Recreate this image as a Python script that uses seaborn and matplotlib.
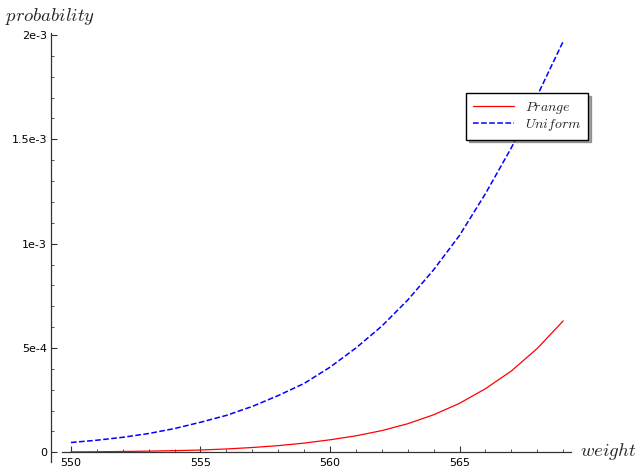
import matplotlib
matplotlib.use("Agg")
import matplotlib.pyplot as plt
import pandas as pd
import seaborn as sns
from matplotlib.ticker import MultipleLocator, FixedLocator, FixedFormatter

# values
weight = list(range(550, 570))
prange = [1.8e-6, 2.7e-6, 4.0e-6, 5.6e-6, 8.0e-6, 1.1e-5, 1.6e-5, 2.3e-5, 3.2e-5, 4.4e-5,
          6.0e-5, 7.9e-5, 1.04e-4, 1.37e-4, 1.80e-4, 2.35e-4, 3.05e-4, 3.9e-4, 4.98e-4, 6.3e-4]
uniform = [4.7e-5, 5.8e-5, 7.2e-5, 9.0e-5, 1.14e-4, 1.44e-4, 1.77e-4, 2.2e-4, 2.72e-4, 3.3e-4,
           4.08e-4, 5.0e-4, 6.05e-4, 7.3e-4, 8.75e-4, 1.04e-3, 1.24e-3, 1.46e-3, 1.71e-3, 1.97e-3]
ytick_vals = [0, 5e-4, 1e-3, 1.5e-3, 2e-3]
ytick_text = ["0", "5e-4", "1e-3", "1.5e-3", "2e-3"]

df = pd.DataFrame({"weight": weight, "Prange": prange, "Uniform": uniform})

sns.set_style("white")
plt.rcParams["mathtext.fontset"] = "cm"
plt.rcParams["font.family"] = ["DejaVu Sans"]

fig = plt.figure(figsize=(6.37, 4.69), dpi=100)
ax = fig.add_axes([51/637, 7.3/469, (571-51)/637, (461.7-33)/469])

sns.lineplot(data=df, x="weight", y="Prange", ax=ax, color="red", linewidth=0.9,
             label="$Prange$")
sns.lineplot(data=df, x="weight", y="Uniform", ax=ax, color="blue", linewidth=1.1,
             linestyle="--", label="$Uniform$")

ax.set_xlim(549.23, 569.3)
ax.set_ylim(-4.5e-5, 2.0096e-3)

# sage-like axes
for s in ["top", "right"]:
    ax.spines[s].set_visible(False)
ax.spines["bottom"].set_position(("data", 0))
ax.spines["bottom"].set_bounds(549.65, 569.3)
for s in ["bottom", "left"]:
    ax.spines[s].set_color("#333333")
    ax.spines[s].set_linewidth(0.9)

ax.xaxis.set_major_locator(FixedLocator([550, 555, 560, 565]))
ax.xaxis.set_minor_locator(MultipleLocator(1))
ax.yaxis.set_major_locator(FixedLocator(ytick_vals))
ax.yaxis.set_major_formatter(FixedFormatter(ytick_text))
ax.yaxis.set_minor_locator(MultipleLocator(1e-4))
ax.tick_params(which="both", direction="in", bottom=True, left=True,
               colors="#333333", labelcolor="black", labelsize=8)
ax.tick_params(which="major", length=4, width=0.8)
ax.tick_params(which="minor", length=2.5, width=0.6)
ax.tick_params(axis="x", pad=4)
ax.tick_params(axis="y", pad=3)

ax.set_xlabel("")
ax.set_ylabel("")
fig.text(5/637, 1-21/469, "$probability$", fontsize=13.5, ha="left", va="baseline")
fig.text(580/637, 1-451/469, "$weight$", fontsize=13.5, ha="left", va="center")

leg = ax.legend(loc="upper right", bbox_to_anchor=(588/637, 1-93/469),
                bbox_transform=fig.transFigure, borderaxespad=0, fancybox=False,
                shadow=True, fontsize=10, frameon=True, handlelength=2.9,
                borderpad=0.5, labelspacing=0.05)
leg.get_frame().set_edgecolor("black")
leg.get_frame().set_linewidth(1.0)

fig.savefig("out.png", dpi=100)
